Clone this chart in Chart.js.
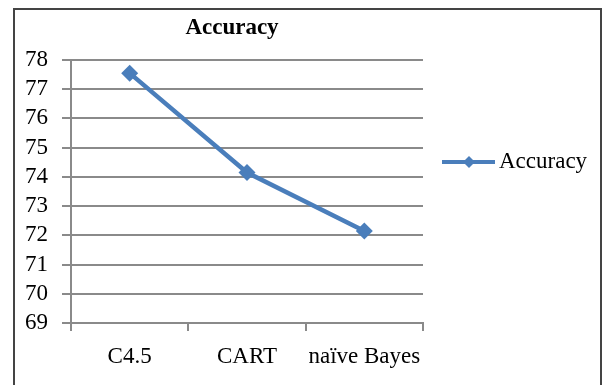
<!DOCTYPE html>
<html>
<head>
<meta charset="utf-8">
<script src="https://cdn.jsdelivr.net/npm/chart.js@4/dist/chart.umd.min.js"></script>
<style>
  html, body { margin: 0; padding: 0; background: #fff; }
  #wrap { position: relative; width: 604px; height: 385px; }
</style>
</head>
<body>
<div id="wrap"><canvas id="chart" width="604" height="385"></canvas></div>
<script>
// Classifier accuracy (%)
const categories = ['C4.5', 'CART', 'naïve Bayes'];
const accuracy = [77.55, 74.15, 72.15];
const seriesName = 'Accuracy';
const yTicks = [69, 70, 71, 72, 73, 74, 75, 76, 77, 78];

const lineColor = '#4a7ebb';
const gridColor = '#8a8a8a';
const fontFamily = '"Liberation Serif", "Times New Roman", serif';

// Frame, title and legend drawn around the plot
const decorations = {
  id: 'decorations',
  afterDraw(chart) {
    const ctx = chart.ctx;
    ctx.save();
    // outer frame (left, top, right)
    ctx.strokeStyle = '#444';
    ctx.lineWidth = 2;
    ctx.beginPath();
    ctx.moveTo(14, 385);
    ctx.lineTo(14, 9);
    ctx.lineTo(601, 9);
    ctx.lineTo(601, 385);
    ctx.stroke();

    // title
    ctx.fillStyle = '#000';
    ctx.font = 'bold 23px ' + fontFamily;
    ctx.textAlign = 'center';
    ctx.textBaseline = 'middle';
    ctx.fillText(seriesName, 232, 28);

    // legend: line with diamond marker, then label
    const ly = 162;
    ctx.strokeStyle = lineColor;
    ctx.lineWidth = 4;
    ctx.beginPath();
    ctx.moveTo(442, ly);
    ctx.lineTo(495, ly);
    ctx.stroke();
    ctx.fillStyle = lineColor;
    ctx.beginPath();
    const r = 6;
    ctx.moveTo(469, ly - r);
    ctx.lineTo(469 + r, ly);
    ctx.lineTo(469, ly + r);
    ctx.lineTo(469 - r, ly);
    ctx.closePath();
    ctx.fill();
    ctx.fillStyle = '#000';
    ctx.font = '23px ' + fontFamily;
    ctx.textAlign = 'left';
    ctx.fillText(seriesName, 499, ly);
    ctx.restore();
  }
};

new Chart(document.getElementById('chart'), {
  type: 'line',
  data: {
    labels: categories,
    datasets: [{
      label: seriesName,
      data: accuracy,
      borderColor: lineColor,
      backgroundColor: lineColor,
      borderWidth: 4.5,
      pointStyle: 'rectRot',
      pointRadius: 8.5,
      pointBorderWidth: 0,
      tension: 0,
      fill: false
    }]
  },
  options: {
    responsive: false,
    animation: false,
    layout: { padding: { top: 60, right: 181, left: 0, bottom: 0 } },
    plugins: {
      legend: { display: false },
      title: { display: false },
      tooltip: { enabled: false }
    },
    scales: {
      x: {
        offset: true,
        afterFit(scale) { scale.height = 62; },
        grid: {
          offset: true,
          drawOnChartArea: false,
          drawTicks: true,
          tickLength: 8,
          color: gridColor,
          lineWidth: 2
        },
        border: { color: gridColor, width: 2 },
        ticks: {
          color: '#000',
          padding: 12,
          autoSkip: false,
          maxRotation: 0,
          minRotation: 0,
          font: { family: fontFamily, size: 23 }
        }
      },
      y: {
        min: 69,
        max: 78,
        afterFit(scale) { scale.width = 71; },
        afterBuildTicks(scale) { scale.ticks = yTicks.map(v => ({ value: v })); },
        grid: {
          color: gridColor,
          lineWidth: 2,
          tickLength: 9
        },
        border: { color: gridColor, width: 2 },
        ticks: {
          color: '#000',
          padding: 14,
          autoSkip: false,
          font: { family: fontFamily, size: 23 }
        }
      }
    }
  },
  plugins: [decorations]
});
</script>
</body>
</html>
